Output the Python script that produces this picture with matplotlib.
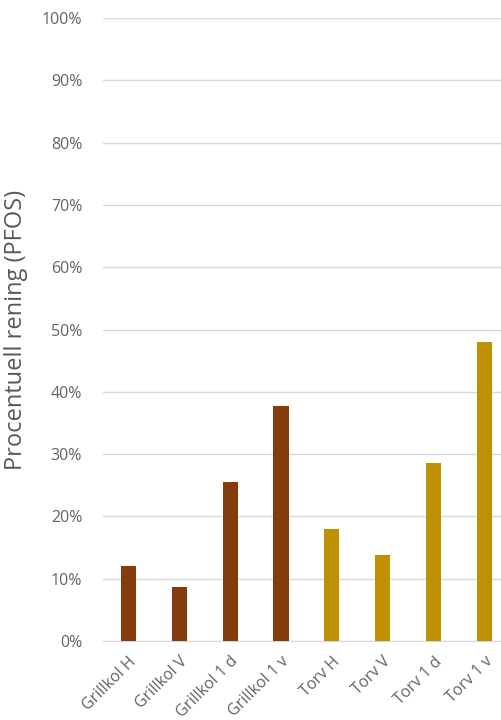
import matplotlib.pyplot as plt
from matplotlib.ticker import PercentFormatter

# Data
categories = ['Grillkol H', 'Grillkol V', 'Grillkol 1 d', 'Grillkol 1 v',
              'Torv H', 'Torv V', 'Torv 1 d', 'Torv 1 v']
rening = [12.0, 8.6, 25.5, 37.8, 18.0, 13.8, 28.5, 48.0]
bar_colors = ['#843C0C'] * 4 + ['#BF9000'] * 4
y_ticks = list(range(0, 101, 10))

plt.rcParams['font.family'] = ['Open Sans', 'DejaVu Sans']

fig = plt.figure(figsize=(5.01, 7.2), dpi=100)
ax = fig.add_axes([0.2056, 0.1097, 0.812, 0.8653])

x = range(len(categories))
ax.bar(x, rening, width=0.3, color=bar_colors, zorder=3)

ax.set_xlim(-0.5, len(categories) - 0.5)
ax.set_ylim(0, 100)
ax.set_yticks(y_ticks)
ax.yaxis.set_major_formatter(PercentFormatter(decimals=0))
ax.grid(axis='y', color='#D9D9D9', linewidth=1, zorder=0)

ax.set_xticks(list(x))
ax.set_xticklabels(categories, rotation=45, ha='right', rotation_mode='anchor')
ax.tick_params(axis='both', length=0, labelsize=11.5, labelcolor='#636363')
ax.tick_params(axis='y', pad=15)
ax.tick_params(axis='x', pad=9)

for side in ['top', 'right', 'left']:
    ax.spines[side].set_visible(False)
ax.spines['bottom'].set_color('#D9D9D9')

ax.set_ylabel('Procentuell rening (PFOS)', fontsize=17, color='#595959', labelpad=10)

fig.savefig('out.png', dpi=100)
